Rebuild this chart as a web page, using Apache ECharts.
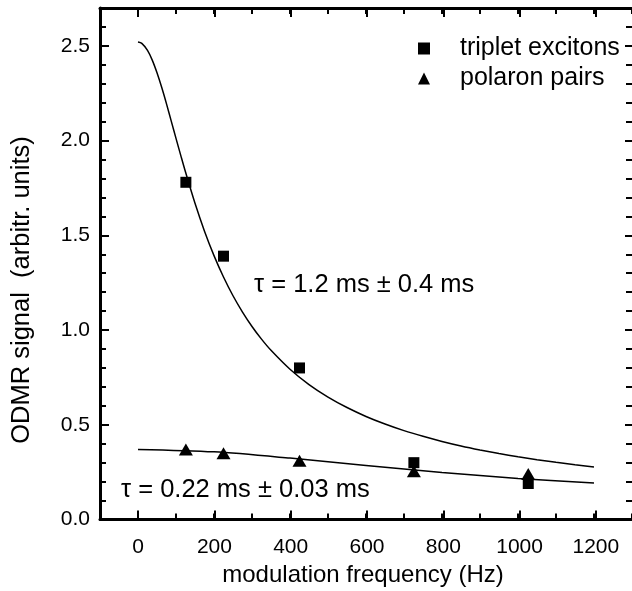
<!DOCTYPE html>
<html>
<head>
<meta charset="utf-8">
<script src="https://cdn.jsdelivr.net/npm/echarts@6/dist/echarts.min.js"></script>
<style>html,body{margin:0;padding:0;background:#fff}#c{width:632px;height:591px}</style>
</head>
<body>
<div id="c"></div>
<script>
// measured points
const freqs = [126, 225, 425, 726, 1027];
const tripletVals = [1.78, 1.39, 0.80, 0.30, 0.19];
const polaronVals = [0.37, 0.35, 0.31, 0.255, 0.24];
// fit curves
const tripletFitX = [0, 10, 25, 37.5, 50, 62.5, 75, 87.5, 100, 112.5, 125, 150, 175, 200, 225, 250, 275, 300, 325, 350, 400, 450, 500, 550, 600, 650, 700, 750, 800, 850, 900, 950, 1000, 1050, 1100, 1150, 1200];
const tripletFitY = [2.52, 2.513, 2.476, 2.425, 2.358, 2.28, 2.194, 2.103, 2.012, 1.922, 1.834, 1.669, 1.522, 1.393, 1.28, 1.181, 1.095, 1.019, 0.952, 0.893, 0.793, 0.712, 0.646, 0.591, 0.544, 0.504, 0.469, 0.439, 0.412, 0.388, 0.367, 0.348, 0.331, 0.316, 0.302, 0.289, 0.277];
const polaronFitX = [0, 200, 400, 600, 800, 1000, 1200];
const polaronFitY = [0.37, 0.357, 0.324, 0.285, 0.248, 0.217, 0.193];
// ticks
const xMin = -100, xMax = 1300, xMinorStep = 100;
const xLabelMin = 0, xLabelMax = 1200, xMajorStep = 200;
const yMin = 0, yMax = 2.7, yMinorStep = 0.1;
const yLabelMin = 0, yLabelMax = 2.5, yMajorStep = 0.5;
const legendNames = ['triplet excitons', 'polaron pairs'];

const FONT = 'Liberation Sans, Arial, Helvetica, sans-serif';
// main plot box
const G = { left: 100, top: 8, width: 534, height: 511.5 };
// box spanning only the labelled tick range (same scale)
const pxX = G.width / (xMax - xMin), pxY = G.height / (yMax - yMin);
const G2 = {
  left: G.left + (xLabelMin - xMin) * pxX,
  width: (xLabelMax - xLabelMin) * pxX,
  top: G.top + (yMax - yLabelMax) * pxY,
  height: (yLabelMax - yLabelMin) * pxY
};
const offX = G2.left - G.left, offY = G2.top - G.top;

const tickStyle = { color: '#000', width: 2 };
function axis(gridIndex, position, min, max, step, len, opts) {
  opts = opts || {};
  return {
    type: 'value', gridIndex: gridIndex, position: position, min: min, max: max, interval: step,
    offset: opts.offset || 0,
    splitLine: { show: false },
    axisLine: { show: !!opts.line, onZero: false, lineStyle: { color: '#000', width: 3 } },
    axisTick: { show: true, inside: true, length: len, lineStyle: tickStyle },
    axisLabel: { show: !!opts.label, color: '#000', fontFamily: FONT, fontSize: 21, margin: opts.margin || 10,
                 formatter: opts.fmt }
  };
}

const chart = echarts.init(document.getElementById('c'), null, { renderer: 'canvas' });
chart.setOption({
  backgroundColor: '#fff',
  animation: false,
  grid: [
    { left: G.left, top: G.top, width: G.width, height: G.height },
    { left: G2.left, top: G2.top, width: G2.width, height: G2.height }
  ],
  xAxis: [
    axis(0, 'bottom', xMin, xMax, xMinorStep, 6, { line: true }),
    axis(0, 'top', xMin, xMax, xMinorStep, 6, { line: true }),
    axis(1, 'bottom', xLabelMin, xLabelMax, xMajorStep, 9, { label: true, margin: 17, fmt: v => String(v) }),
    axis(1, 'top', xLabelMin, xLabelMax, xMajorStep, 9, { offset: offY })
  ],
  yAxis: [
    axis(0, 'left', yMin, yMax, yMinorStep, 6, { line: true }),
    axis(0, 'right', yMin, yMax, yMinorStep, 6, {}),
    axis(1, 'left', yLabelMin, yLabelMax, yMajorStep, 9, { label: true, offset: offX, margin: 10, fmt: v => v.toFixed(1) }),
    axis(1, 'right', yLabelMin, yLabelMax, yMajorStep, 9, { offset: G.left + G.width - (G2.left + G2.width) })
  ],
  legend: {
    orient: 'vertical', left: 418, top: 36, padding: 0, itemWidth: 12, itemHeight: 12, itemGap: 5,
    selectedMode: false,
    textStyle: { color: '#000', fontFamily: FONT, fontSize: 25, lineHeight: 25, padding: [0, 0, 0, 25] },
    data: [{ name: legendNames[0], icon: 'rect' }, { name: legendNames[1], icon: 'triangle' }]
  },
  series: [
    { type: 'line', name: 'triplet fit', xAxisIndex: 0, yAxisIndex: 0,
      data: tripletFitX.map((x, i) => [x, tripletFitY[i]]),
      smooth: 0.3, showSymbol: false, lineStyle: { color: '#000', width: 1.5 }, z: 2 },
    { type: 'line', name: 'polaron fit', xAxisIndex: 0, yAxisIndex: 0,
      data: polaronFitX.map((x, i) => [x, polaronFitY[i]]),
      smooth: 0.3, showSymbol: false, lineStyle: { color: '#000', width: 1.5 }, z: 2 },
    { type: 'scatter', name: legendNames[0], xAxisIndex: 0, yAxisIndex: 0, symbol: 'rect', symbolSize: 11,
      itemStyle: { color: '#000', opacity: 1 }, data: freqs.map((x, i) => [x, tripletVals[i]]), z: 3 },
    { type: 'scatter', name: legendNames[1], xAxisIndex: 0, yAxisIndex: 0, symbol: 'triangle', symbolSize: [14, 12],
      itemStyle: { color: '#000', opacity: 1 }, data: freqs.map((x, i) => [x, polaronVals[i]]), z: 3 }
  ],
  graphic: [
    { type: 'text', x: 254, y: 285, style: { text: 'τ = 1.2 ms ± 0.4 ms', fill: '#000', font: '25.5px ' + FONT, verticalAlign: 'middle' } },
    { type: 'text', x: 121, y: 490, style: { text: 'τ = 0.22 ms ± 0.03 ms', fill: '#000', font: '25.5px ' + FONT, verticalAlign: 'middle' } },
    { type: 'text', x: 363, y: 575, style: { text: 'modulation frequency (Hz)', fill: '#000', font: '24px ' + FONT, align: 'center', verticalAlign: 'middle' } },
    { type: 'text', x: 22, y: 290, rotation: Math.PI / 2, style: { text: 'ODMR signal  (arbitr. units)', fill: '#000', font: '25.5px ' + FONT, align: 'center', verticalAlign: 'middle' } }
  ]
});
</script>
</body>
</html>
